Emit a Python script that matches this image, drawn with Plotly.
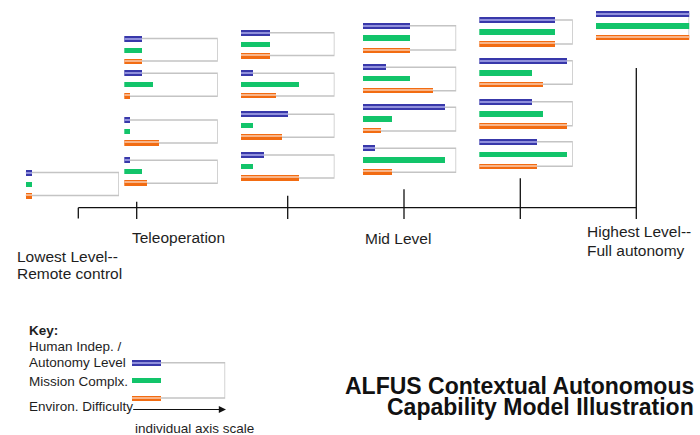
import plotly.graph_objects as go

# ---------------- data ----------------
# each level holds one or more mini charts; each mini chart = (autonomy, mission, environment)
autonomy = [[1], [3, 3, 1, 1], [5, 2, 8, 4], [8, 4, 14, 2], [13, 15, 9, 10], [16]]
mission = [[1], [3, 5, 1, 3], [5, 10, 2, 2], [8, 8, 5, 14], [13, 9, 11, 15], [16]]
environment = [[1], [3, 1, 6, 4], [5, 6, 7, 10], [8, 12, 3, 5], [13, 11, 15, 10], [16]]
key_values = [5, 5, 5]
axis_max = 16

level_labels = [["Lowest Level--", "Remote control"], ["Teleoperation"], [], ["Mid Level"], [], ["Highest Level--", "Full autonomy"]]
key_labels = ["Human Indep. /", "Autonomy Level", "Mission Complx.", "Environ. Difficulty"]
key_title = "Key:"
key_axis_label = "individual axis scale"
title_lines = ["ALFUS Contextual Autonomous", "Capability Model Illustration"]

# ---------------- layout geometry (pixels) ----------------
W, H = 700, 435
BOX_W = 93.5
level_left = [25.5, 124.3, 241.0, 362.7, 479.3, 595.7]
level_boxes = [
    [(172.5, 195.5)],
    [(38.5, 61.0), (73.3, 96.3), (120.0, 143.0), (160.3, 183.3)],
    [(32.7, 55.5), (73.3, 96.0), (114.3, 137.3), (155.0, 178.0)],
    [(25.7, 50.0), (67.3, 90.7), (107.3, 131.0), (148.3, 172.3)],
    [(20.0, 44.0), (60.7, 84.3), (101.7, 125.7), (141.7, 166.3)],
    [(14.0, 37.7)],
]
key_left, key_box = 131.7, (362.7, 398.0)

BLUE, BLUE_HI = "#3838aa", "#9090dc"
GREEN = "#12c46a"
ORANGE, ORANGE_HI = "#f26c12", "#f8b488"
BOX_COLOR = "#c4c4c4"
TEXT = "#1e1e1e"
FONT = "Arial, Liberation Sans, sans-serif"

fig = go.Figure()
layout = {}
shapes = []
annotations = []

def px_x(x):
    return x / W

def px_y(y):
    return 1 - y / H

chart_no = [0]

def add_chart(left, top, bot, vals):
    chart_no[0] += 1
    n = chart_no[0]
    xa = "x" if n == 1 else f"x{n}"
    ya = "y" if n == 1 else f"y{n}"
    h = bot - top
    u = 2.0 / h  # data units per pixel
    pad = 8
    layout["xaxis" if n == 1 else f"xaxis{n}"] = dict(
        domain=[px_x(left), px_x(left + BOX_W)], range=[0, axis_max],
        visible=False, fixedrange=True, anchor=ya)
    layout["yaxis" if n == 1 else f"yaxis{n}"] = dict(
        domain=[px_y(bot + pad), px_y(top - pad)], range=[-pad * u, 2 + pad * u],
        visible=False, fixedrange=True, anchor=xa)
    # box (open on the left)
    shapes.append(dict(type="path", path=f"M 0,2 L {axis_max},2 L {axis_max},0 L 0,0",
                       xref=xa, yref=ya, line=dict(color=BOX_COLOR, width=1.5), layer="below"))
    a, m, e = vals
    bw = 5.5 * u
    hw = 1.2 * u
    for val, ypos, col, w in [(a, 2, BLUE, bw), (m, 1, GREEN, bw), (e, 0, ORANGE, bw),
                              (a, 2, BLUE_HI, hw), (e, 0 + 0.8 * u, ORANGE_HI, hw)]:
        fig.add_trace(go.Bar(x=[val], y=[ypos], orientation="h", width=w, base=0,
                             marker=dict(color=col, line=dict(width=0)),
                             xaxis=xa, yaxis=ya, showlegend=False, hoverinfo="skip"))

for li, boxes in enumerate(level_boxes):
    for bi, (top, bot) in enumerate(boxes):
        add_chart(level_left[li], top, bot,
                  (autonomy[li][bi], mission[li][bi], environment[li][bi]))

add_chart(key_left, key_box[0], key_box[1], tuple(key_values))

# ---------------- autonomy-level scale ----------------
LINE = "#111111"
scale_y = 207.7
shapes.append(dict(type="line", xref="paper", yref="paper", x0=px_x(78.3), x1=px_x(636.3),
                   y0=px_y(scale_y), y1=px_y(scale_y), line=dict(color=LINE, width=1.3)))
shapes.append(dict(type="line", xref="paper", yref="paper", x0=px_x(78.3), x1=px_x(78.3),
                   y0=px_y(scale_y), y1=px_y(218.5), line=dict(color=LINE, width=1.3)))
for tx, ttop in [(136.7, 201.7), (287.7, 195.7), (404.0, 189.3), (520.3, 178.3), (636.3, 68.0)]:
    shapes.append(dict(type="line", xref="paper", yref="paper", x0=px_x(tx), x1=px_x(tx),
                       y0=px_y(ttop), y1=px_y(219), line=dict(color=LINE, width=1.3)))

label_pos = [(15, [256.7, 273.8]), (130, [237.5]), None, (363, [238.3]), None, (584.5, [231.7, 250.7])]
for lines, pos in zip(level_labels, label_pos):
    if not lines:
        continue
    x0, ys = pos
    for line, yy in zip(lines, ys):
        annotations.append(dict(text=line, x=px_x(x0), y=px_y(yy), xref="paper", yref="paper",
                                xanchor="left", yanchor="middle", showarrow=False,
                                font=dict(family=FONT, size=15.5, color=TEXT)))

# ---------------- key ----------------
annotations.append(dict(text=f"<b>{key_title}</b>", x=px_x(26.5), y=px_y(330), xref="paper", yref="paper",
                        xanchor="left", yanchor="middle", showarrow=False,
                        font=dict(family=FONT, size=13.5, color=TEXT)))
for txt, yy in zip(key_labels, [346.7, 362.7, 381.0, 406.0]):
    annotations.append(dict(text=txt, x=px_x(26.5), y=px_y(yy), xref="paper", yref="paper",
                            xanchor="left", yanchor="middle", showarrow=False,
                            font=dict(family=FONT, size=13.5, color=TEXT)))
annotations.append(dict(text="", x=px_x(226), y=px_y(409.5), xref="paper", yref="paper",
                        ax=-94.3, ay=0, axref="pixel", ayref="pixel",
                        showarrow=True, arrowhead=2, arrowsize=1.2, arrowwidth=1.2, arrowcolor=LINE))
annotations.append(dict(text=key_axis_label, x=px_x(133), y=px_y(428), xref="paper", yref="paper",
                        xanchor="left", yanchor="middle", showarrow=False,
                        font=dict(family=FONT, size=13.5, color=TEXT)))

# ---------------- title ----------------
for txt, yy in zip(title_lines, [386.0, 406.5]):
    annotations.append(dict(text=f"<b>{txt}</b>", x=px_x(696), y=px_y(yy), xref="paper", yref="paper",
                            xanchor="right", yanchor="middle", showarrow=False,
                            font=dict(family=FONT, size=23, color="#111111")))

fig.update_layout(**layout)
fig.update_layout(width=W, height=H, margin=dict(l=0, r=0, t=0, b=0),
                  paper_bgcolor="white", plot_bgcolor="rgba(0,0,0,0)",
                  barmode="overlay", bargap=0, shapes=shapes, annotations=annotations)

fig.write_html("out.html", config={"displayModeBar": False},
               post_script="document.body.style.margin='0';document.body.style.overflow='hidden';")
